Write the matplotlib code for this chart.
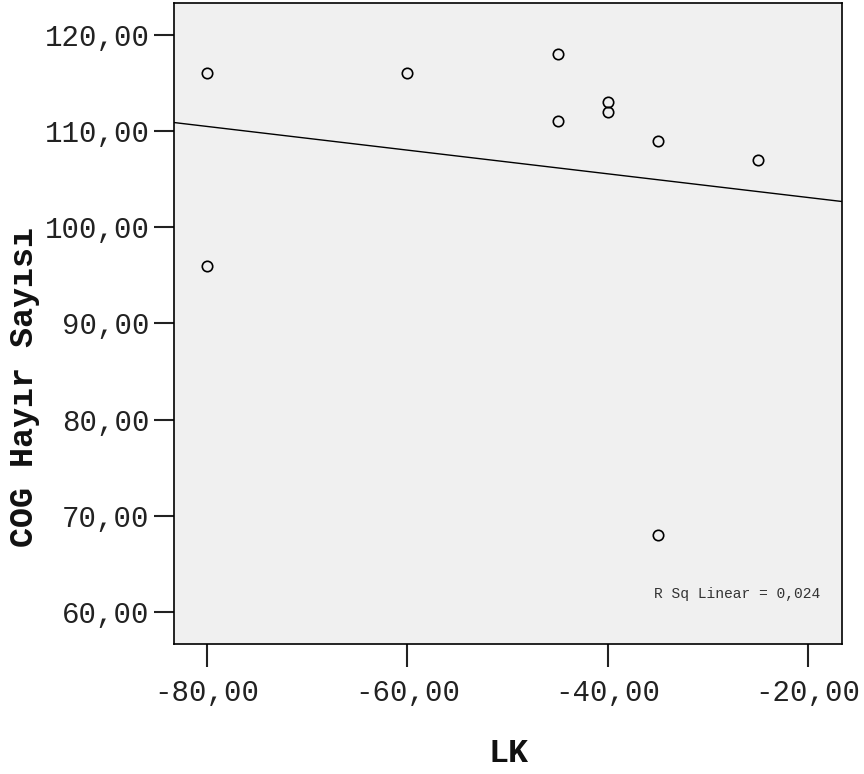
import numpy as np
from matplotlib import pyplot as plt

lk = [-80, -80, -60, -45, -45, -40, -40, -35, -35, -25]
cog_hayir = [116, 96, 116, 118, 111, 113, 112, 109, 68, 107]
x_ticks = [-80, -60, -40, -20]
y_ticks = [60, 70, 80, 90, 100, 110, 120]

plt.rcParams['font.family'] = ['Liberation Mono', 'DejaVu Sans Mono']

fig = plt.figure(figsize=(8.64, 7.74), dpi=100)
ax = fig.add_axes([0.2014, 0.168, 0.7731, 0.8281])
ax.set_facecolor('#f0f0f0')

ax.plot(lk, cog_hayir, 'o', mfc='none', mec='black', ms=7.5, mew=1.2)

# linear fit
slope, intercept = np.polyfit(lk, cog_hayir, 1)
r2 = np.corrcoef(lk, cog_hayir)[0, 1] ** 2
xlim = (-83.3, -16.6)
xs = np.array(xlim)
ax.plot(xs, slope * xs + intercept, color='black', lw=1.0)

ax.set_xlim(xlim)
ax.set_ylim(56.7, 123.3)
ax.set_xticks(x_ticks)
ax.set_yticks(y_ticks)
fmt = lambda v: ('%.2f' % v).replace('.', ',')
ax.set_xticklabels([fmt(v) for v in x_ticks])
ax.set_yticklabels([fmt(v) for v in y_ticks])
ax.tick_params(axis='both', labelsize=21, colors='#222222', width=1.5)
ax.tick_params(axis='y', length=14.5, pad=3)
ax.tick_params(axis='x', length=16.5, pad=9)
for s in ax.spines.values():
    s.set_linewidth(1.2)

# axis titles: y title is centred on the figure, like SPSS does
fig.text(0.588, 0.026, 'LK', fontsize=24, fontweight='bold',
         ha='center', va='center', color='#111111')
fig.text(0.028, 0.5, 'COG Hayır Sayısı', fontsize=24, fontweight='bold',
         rotation=90, ha='center', va='center', color='#111111')

ax.text(0.967, 0.078, 'R Sq Linear = ' + ('%.3f' % r2).replace('.', ','),
        transform=ax.transAxes, ha='right', va='center', fontsize=10.5, color='#333333')

fig.savefig('out.png', dpi=100)
